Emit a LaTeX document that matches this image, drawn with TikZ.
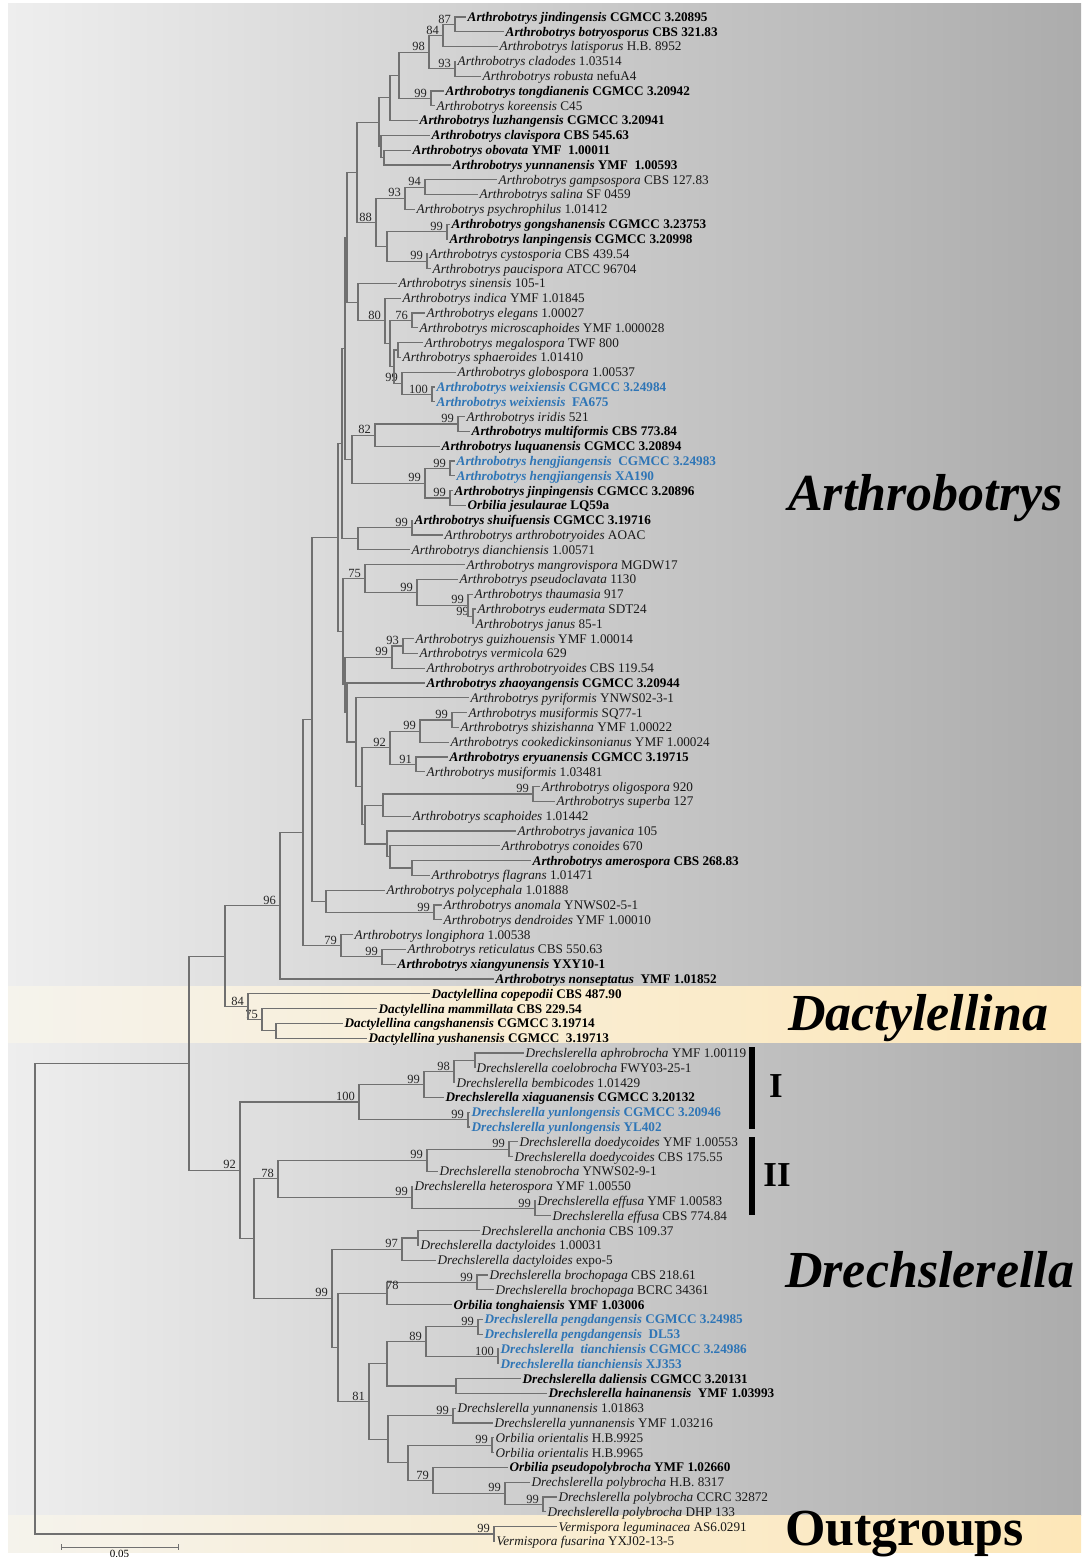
\documentclass[tikz,border=0pt]{standalone}
\usepackage{fontspec}
\setmainfont{Liberation Serif}
\usetikzlibrary{calc}
\definecolor{branch}{RGB}{112,112,112}
\definecolor{newsp}{RGB}{46,117,182}
\definecolor{bgleft}{RGB}{238,238,238}
\definecolor{bgright}{RGB}{172,172,172}
\definecolor{bandleft}{RGB}{245,243,236}
\definecolor{bandright}{RGB}{253,231,184}
\tikzset{br/.style={draw=branch,line width=1.1pt},
 taxon/.style={anchor=base west,inner sep=1.5pt,yshift=-4.4pt,font=\fontsize{13.2}{14}\selectfont,text=black!90},
 taxonb/.style={taxon,font=\fontsize{13.2}{14}\selectfont\bfseries,text=black},
 taxonnew/.style={taxonb,text=newsp},
 bs/.style={anchor=south east,inner sep=1pt,xshift=-3pt,font=\fontsize{12.5}{13}\selectfont,text=black!85},
 genus/.style={anchor=base west,inner sep=0pt,font=\fontsize{52}{52}\selectfont\bfseries\itshape},
 lineage/.style={inner sep=0pt,font=\fontsize{35}{35}\selectfont\bfseries},
 cladebar/.style={draw=black,line width=6pt}}
\newcommand{\tx}[6]{\coordinate (#1) at (#3,{17+14.8*(#2-1)});
 \node[#4] (#1l) at (#1) {\textit{#5} #6};}
\newcommand{\nd}[5]{\path let \p1=(#3),\p2=(#4) in coordinate (#1) at (#2pt,{0.5*\y1+0.5*\y2});
 \draw[br] (#1) |- (#3) (#1) |- (#4);
 \node[bs] at (#1) {#5};}

\begin{document}
\begin{tikzpicture}[x=1pt,y=-1pt]
\useasboundingbox (0,0) rectangle (1081,1557);
\fill[white] (0,0) rectangle (1081,1557);
\shade[left color=bgleft,right color=bgright] (8,4) rectangle (1081,986);
\shade[left color=bandleft,right color=bandright] (8,986) rectangle (1081,1043);
\shade[left color=bgleft,right color=bgright] (8,1043) rectangle (1081,1515);
\shade[left color=bandleft,right color=bandright] (8,1515) rectangle (1081,1552);

\tx{t1}{1}{466}{taxonb}{Arthrobotrys jindingensis}{CGMCC 3.20895}
\tx{t2}{2}{504}{taxonb}{Arthrobotrys botryosporus}{CBS 321.83}
\tx{t3}{3}{498}{taxon}{Arthrobotrys latisporus}{H.B. 8952}
\tx{t4}{4}{456}{taxon}{Arthrobotrys cladodes}{1.03514}
\tx{t5}{5}{481}{taxon}{Arthrobotrys robusta}{nefuA4}
\tx{t6}{6}{444}{taxonb}{Arthrobotrys tongdianenis}{CGMCC 3.20942}
\tx{t7}{7}{435}{taxon}{Arthrobotrys koreensis}{C45}
\tx{t8}{8}{418}{taxonb}{Arthrobotrys luzhangensis}{CGMCC 3.20941}
\tx{t9}{9}{430}{taxonb}{Arthrobotrys clavispora}{CBS 545.63}
\tx{t10}{10}{411}{taxonb}{Arthrobotrys obovata}{YMF~ 1.00011}
\tx{t11}{11}{451}{taxonb}{Arthrobotrys yunnanensis}{YMF~ 1.00593}
\tx{t12}{12}{497}{taxon}{Arthrobotrys gampsospora}{CBS 127.83}
\tx{t13}{13}{478}{taxon}{Arthrobotrys salina}{SF 0459}
\tx{t14}{14}{415}{taxon}{Arthrobotrys psychrophilus}{1.01412}
\tx{t15}{15}{450}{taxonb}{Arthrobotrys gongshanensis}{CGMCC 3.23753}
\tx{t16}{16}{448}{taxonb}{Arthrobotrys lanpingensis}{CGMCC 3.20998}
\tx{t17}{17}{428}{taxon}{Arthrobotrys cystosporia}{CBS 439.54}
\tx{t18}{18}{431}{taxon}{Arthrobotrys paucispora}{ATCC 96704}
\tx{t19}{19}{397}{taxon}{Arthrobotrys sinensis}{105-1}
\tx{t20}{20}{401}{taxon}{Arthrobotrys indica}{YMF 1.01845}
\tx{t21}{21}{425}{taxon}{Arthrobotrys elegans}{1.00027}
\tx{t22}{22}{418}{taxon}{Arthrobotrys microscaphoides}{YMF 1.000028}
\tx{t23}{23}{423}{taxon}{Arthrobotrys megalospora}{TWF 800}
\tx{t24}{24}{401}{taxon}{Arthrobotrys sphaeroides}{1.01410}
\tx{t25}{25}{456}{taxon}{Arthrobotrys globospora}{1.00537}
\tx{t26}{26}{435}{taxonnew}{Arthrobotrys weixiensis}{CGMCC 3.24984}
\tx{t27}{27}{435}{taxonnew}{Arthrobotrys weixiensis}{~FA675}
\tx{t28}{28}{465}{taxon}{Arthrobotrys iridis}{521}
\tx{t29}{29}{470}{taxonb}{Arthrobotrys multiformis}{CBS 773.84}
\tx{t30}{30}{440}{taxonb}{Arthrobotrys luquanensis}{CGMCC 3.20894}
\tx{t31}{31}{455}{taxonnew}{Arthrobotrys hengjiangensis}{~CGMCC 3.24983}
\tx{t32}{32}{455}{taxonnew}{Arthrobotrys hengjiangensis}{XA190}
\tx{t33}{33}{453}{taxonb}{Arthrobotrys jinpingensis}{CGMCC 3.20896}
\tx{t34}{34}{466}{taxonb}{Orbilia jesulaurae}{LQ59a}
\tx{t35}{35}{413}{taxonb}{Arthrobotrys shuifuensis}{CGMCC 3.19716}
\tx{t36}{36}{443}{taxon}{Arthrobotrys arthrobotryoides}{AOAC}
\tx{t37}{37}{410}{taxon}{Arthrobotrys dianchiensis}{1.00571}
\tx{t38}{38}{465}{taxon}{Arthrobotrys mangrovispora}{MGDW17}
\tx{t39}{39}{458}{taxon}{Arthrobotrys pseudoclavata}{1130}
\tx{t40}{40}{473}{taxon}{Arthrobotrys thaumasia}{917}
\tx{t41}{41}{476}{taxon}{Arthrobotrys eudermata}{SDT24}
\tx{t42}{42}{474}{taxon}{Arthrobotrys janus}{85-1}
\tx{t43}{43}{414}{taxon}{Arthrobotrys guizhouensis}{YMF 1.00014}
\tx{t44}{44}{418}{taxon}{Arthrobotrys vermicola}{629}
\tx{t45}{45}{425}{taxon}{Arthrobotrys arthrobotryoides}{CBS 119.54}
\tx{t46}{46}{425}{taxonb}{Arthrobotrys zhaoyangensis}{CGMCC 3.20944}
\tx{t47}{47}{469}{taxon}{Arthrobotrys pyriformis}{YNWS02-3-1}
\tx{t48}{48}{467}{taxon}{Arthrobotrys musiformis}{SQ77-1}
\tx{t49}{49}{459}{taxon}{Arthrobotrys shizishanna}{YMF 1.00022}
\tx{t50}{50}{449}{taxon}{Arthrobotrys cookedickinsonianus}{YMF 1.00024}
\tx{t51}{51}{448}{taxonb}{Arthrobotrys eryuanensis}{CGMCC 3.19715}
\tx{t52}{52}{425}{taxon}{Arthrobotrys musiformis}{1.03481}
\tx{t53}{53}{540}{taxon}{Arthrobotrys oligospora}{920}
\tx{t54}{54}{555}{taxon}{Arthrobotrys superba}{127}
\tx{t55}{55}{411}{taxon}{Arthrobotrys scaphoides}{1.01442}
\tx{t56}{56}{516}{taxon}{Arthrobotrys javanica}{105}
\tx{t57}{57}{500}{taxon}{Arthrobotrys conoides}{670}
\tx{t58}{58}{531}{taxonb}{Arthrobotrys amerospora}{CBS 268.83}
\tx{t59}{59}{430}{taxon}{Arthrobotrys flagrans}{1.01471}
\tx{t60}{60}{385}{taxon}{Arthrobotrys polycephala}{1.01888}
\tx{t61}{61}{442}{taxon}{Arthrobotrys anomala}{YNWS02-5-1}
\tx{t62}{62}{442}{taxon}{Arthrobotrys dendroides}{YMF 1.00010}
\tx{t63}{63}{353}{taxon}{Arthrobotrys longiphora}{1.00538}
\tx{t64}{64}{406}{taxon}{Arthrobotrys reticulatus}{CBS 550.63}
\tx{t65}{65}{396}{taxonb}{Arthrobotrys xiangyunensis}{YXY10-1}
\tx{t66}{66}{494}{taxonb}{Arthrobotrys nonseptatus}{~YMF 1.01852}
\tx{t67}{67}{430}{taxonb}{Dactylellina copepodii}{CBS 487.90}
\tx{t68}{68}{377}{taxonb}{Dactylellina mammillata}{CBS 229.54}
\tx{t69}{69}{343}{taxonb}{Dactylellina cangshanensis}{CGMCC 3.19714}
\tx{t70}{70}{367}{taxonb}{Dactylellina yushanensis}{CGMCC~ 3.19713}
\tx{t71}{71}{524}{taxon}{Drechslerella aphrobrocha}{YMF 1.00119}
\tx{t72}{72}{475}{taxon}{Drechslerella coelobrocha}{FWY03-25-1}
\tx{t73}{73}{455}{taxon}{Drechslerella bembicodes}{1.01429}
\tx{t74}{74}{444}{taxonb}{Drechslerella xiaguanensis}{CGMCC 3.20132}
\tx{t75}{75}{470}{taxonnew}{Drechslerella yunlongensis}{CGMCC 3.20946}
\tx{t76}{76}{470}{taxonnew}{Drechslerella yunlongensis}{YL402}
\tx{t77}{77}{518}{taxon}{Drechslerella doedycoides}{YMF 1.00553}
\tx{t78}{78}{513}{taxon}{Drechslerella doedycoides}{CBS 175.55}
\tx{t79}{79}{438}{taxon}{Drechslerella stenobrocha}{YNWS02-9-1}
\tx{t80}{80}{413}{taxon}{Drechslerella heterospora}{YMF 1.00550}
\tx{t81}{81}{536}{taxon}{Drechslerella effusa}{YMF 1.00583}
\tx{t82}{82}{551}{taxon}{Drechslerella effusa}{CBS 774.84}
\tx{t83}{83}{480}{taxon}{Drechslerella anchonia}{CBS 109.37}
\tx{t84}{84}{419}{taxon}{Drechslerella dactyloides}{1.00031}
\tx{t85}{85}{436}{taxon}{Drechslerella dactyloides}{expo-5}
\tx{t86}{86}{488}{taxon}{Drechslerella brochopaga}{CBS 218.61}
\tx{t87}{87}{494}{taxon}{Drechslerella brochopaga}{BCRC 34361}
\tx{t88}{88}{452}{taxonb}{Orbilia tonghaiensis}{YMF 1.03006}
\tx{t89}{89}{483}{taxonnew}{Drechslerella pengdangensis}{CGMCC 3.24985}
\tx{t90}{90}{483}{taxonnew}{Drechslerella pengdangensis}{~DL53}
\tx{t91}{91}{499}{taxonnew}{Drechslerella~ tianchiensis}{CGMCC 3.24986}
\tx{t92}{92}{499}{taxonnew}{Drechslerella tianchiensis}{XJ353}
\tx{t93}{93}{521}{taxonb}{Drechslerella daliensis}{CGMCC 3.20131}
\tx{t94}{94}{547}{taxonb}{Drechslerella hainanensis}{~YMF 1.03993}
\tx{t95}{95}{456}{taxon}{Drechslerella yunnanensis}{1.01863}
\tx{t96}{96}{493}{taxon}{Drechslerella yunnanensis}{YMF 1.03216}
\tx{t97}{97}{494}{taxon}{Orbilia orientalis}{H.B.9925}
\tx{t98}{98}{494}{taxon}{Orbilia orientalis}{H.B.9965}
\tx{t99}{99}{508}{taxonb}{Orbilia pseudopolybrocha}{YMF 1.02660}
\tx{t100}{100}{530}{taxon}{Drechslerella polybrocha}{H.B. 8317}
\tx{t101}{101}{557}{taxon}{Drechslerella polybrocha}{CCRC 32872}
\tx{t102}{102}{546}{taxon}{Drechslerella polybrocha}{DHP 133}
\tx{t103}{103}{557}{taxon}{Vermispora leguminacea}{AS6.0291}
\tx{t104}{104}{495}{taxon}{Vermispora fusarina}{YXJ02-13-5}

\nd{n87}{455}{t1}{t2}{87}
\nd{n84}{443}{n87}{t3}{84}
\nd{n93a}{455}{t4}{t5}{93}
\nd{n98}{429}{n84}{n93a}{98}
\nd{n99a}{431}{t6}{t7}{99}
\nd{n399}{399}{n98}{n99a}{}
\nd{n390}{390}{n399}{t8}{}
\nd{n385}{384}{t10}{t11}{}
\nd{n381}{381}{t9}{n385}{}
\nd{n380}{379}{n390}{n381}{}
\nd{n94}{425}{t12}{t13}{94}
\nd{n93b}{405}{n94}{t14}{93}
\nd{n99b}{447}{t15}{t16}{99}
\nd{n99c}{427}{t17}{t18}{99}
\nd{n387}{387}{n99b}{n99c}{}
\nd{n88}{376}{n93b}{n387}{88}
\nd{n357}{357}{n380}{n88}{}
\nd{n76}{412}{t21}{t22}{76}
\nd{nMS}{398}{t23}{t24}{}
\nd{n100w}{432}{t26}{t27}{100}
\nd{n99g}{402}{t25}{n100w}{99}
\nd{nA}{394}{nMS}{n99g}{}
\nd{nB}{390}{n76}{nA}{}
\nd{n80}{385}{t20}{nB}{80}
\nd{nSin}{358}{t19}{n80}{}
\nd{n99i}{458}{t28}{t29}{99}
\nd{n82}{375}{n99i}{t30}{82}
\nd{n99h}{450}{t31}{t32}{99}
\nd{n99j}{450}{t33}{t34}{99}
\nd{n99k}{425}{n99h}{n99j}{99}
\nd{n352}{352}{n82}{n99k}{}
\nd{n99s}{412}{t35}{t36}{99}
\nd{n360}{358}{n99s}{t37}{}
\nd{n99t3}{473}{t41}{t42}{99}
\nd{n99t2}{468}{t40}{n99t3}{99}
\nd{n99t1}{417}{t39}{n99t2}{99}
\nd{n75}{365}{t38}{n99t1}{75}
\nd{n93c}{403}{t43}{t44}{93}
\nd{n99u}{392}{n93c}{t45}{99}
\nd{n99m}{452}{t48}{t49}{99}
\nd{n99v}{420}{n99m}{t50}{99}
\nd{n91}{416}{t51}{t52}{91}
\nd{n92a}{390}{n99v}{n91}{92}
\nd{n99o}{533}{t53}{t54}{99}
\nd{n383}{383}{n99o}{t55}{}
\nd{n412}{412}{t58}{t59}{}
\nd{n390b}{390}{t57}{n412}{}
\nd{n387b}{387}{t56}{n390b}{}
\nd{n365}{365}{n383}{n387b}{}
\nd{n362}{362}{n92a}{n365}{}
\nd{n356}{356}{t47}{n362}{}
\nd{n347z}{347}{t46}{n356}{}
\nd{nB1}{347}{n357}{nSin}{}
\nd{nB2}{345}{nB1}{n352}{}
\nd{nB3}{342}{nB2}{n360}{}
\nd{nX}{345}{n99u}{n347z}{}
\nd{n343}{343}{n75}{nX}{}
\nd{n338}{338}{nB3}{n343}{}
\nd{n434}{434}{t61}{t62}{99}
\nd{n326}{326}{t60}{n434}{}
\nd{n312}{312}{n338}{n326}{}
\nd{n382}{382}{t64}{t65}{99}
\nd{n79}{341}{t63}{n382}{79}
\nd{n303}{303}{n312}{n79}{}
\nd{n96}{280}{n303}{t66}{96}
\nd{n276}{276}{t69}{t70}{}
\nd{n75d}{262}{t68}{n276}{75}
\nd{n84d}{248}{t67}{n75d}{84}
\nd{n225}{225}{n96}{n84d}{}
\nd{nAp}{475}{t71}{t72}{}
\nd{n98d}{454}{nAp}{t73}{98}
\nd{n99x}{424}{n98d}{t74}{99}
\nd{n99y}{468}{t75}{t76}{99}
\nd{n100}{359}{n99x}{n99y}{100}
\nd{n99dd}{509}{t77}{t78}{99}
\nd{n99st}{427}{n99dd}{t79}{99}
\nd{n99ef}{535}{t81}{t82}{99}
\nd{n99he}{412}{t80}{n99ef}{99}
\nd{n78}{278}{n99st}{n99he}{78}
\nd{n418}{418}{t83}{t84}{}
\nd{n97}{402}{n418}{t85}{97}
\nd{n99br}{477}{t86}{t87}{99}
\nd{n78b}{387}{n99br}{t88}{}
\nd{n99pe}{478}{t89}{t90}{99}
\nd{n100t}{498}{t91}{t92}{100}
\nd{n89}{426}{n99pe}{n100t}{89}
\nd{n456}{456}{t93}{t94}{}
\nd{n387c}{387}{n89}{n456}{}
\nd{n99yu}{453}{t95}{t96}{99}
\nd{n99or}{492}{t97}{t98}{99}
\nd{n99pp}{543}{t101}{t102}{99}
\nd{n99pol}{505}{t100}{n99pp}{99}
\nd{n79d}{433}{t99}{n99pol}{79}
\nd{nOr}{408}{n99or}{n79d}{}
\nd{n388}{388}{n99yu}{nOr}{}
\nd{n81}{369}{n387c}{n388}{81}
\nd{n338d}{338}{n78b}{n81}{}
\nd{n99big}{332}{n97}{n338d}{99}
\nd{n254}{254}{n78}{n99big}{}
\nd{n92}{240}{n100}{n254}{92}
\nd{n189}{189}{n225}{n92}{}
\nd{nOut}{494}{t103}{t104}{99}
\nd{root}{35}{n189}{nOut}{}
\node[bs,anchor=west,xshift=0pt] at ($(n78b)+(1,-8.5)$) {78};

\node[genus] (arth) at (788,510) {Arthrobotrys};
\node[genus] (dact) at (788,1030) {Dactylellina};
\node[genus] (drec) at (785,1287) {Drechslerella};
\node[genus,font=\fontsize{52}{52}\selectfont\bfseries] (outg) at (785,1545) {Outgroups};

\coordinate (barItop) at (752,1047);
\coordinate (barIbot) at (752,1129);
\coordinate (barIItop) at (752,1137);
\coordinate (barIIbot) at (752,1215);
\draw[cladebar] (barItop) -- (barIbot);
\draw[cladebar] (barIItop) -- (barIIbot);
\node[lineage] (linI) at (776,1086) {I};
\node[lineage] (linII) at (777,1175) {II};

\coordinate (sbleft) at (61,1547);
\coordinate (sbright) at (178,1547);
\draw[br,line width=0.9pt] (sbleft) -- (sbright);
\draw[br,line width=0.9pt] ($(sbleft)+(0,-3)$) -- ($(sbleft)+(0,3)$);
\draw[br,line width=0.9pt] ($(sbright)+(0,-3)$) -- ($(sbright)+(0,3)$);
\node[font=\fontsize{11}{12}\selectfont,anchor=north,inner sep=1pt] (sblabel) at ($(sbleft)!0.5!(sbright)+(0,2)$) {0.05};
\end{tikzpicture}
\end{document}
